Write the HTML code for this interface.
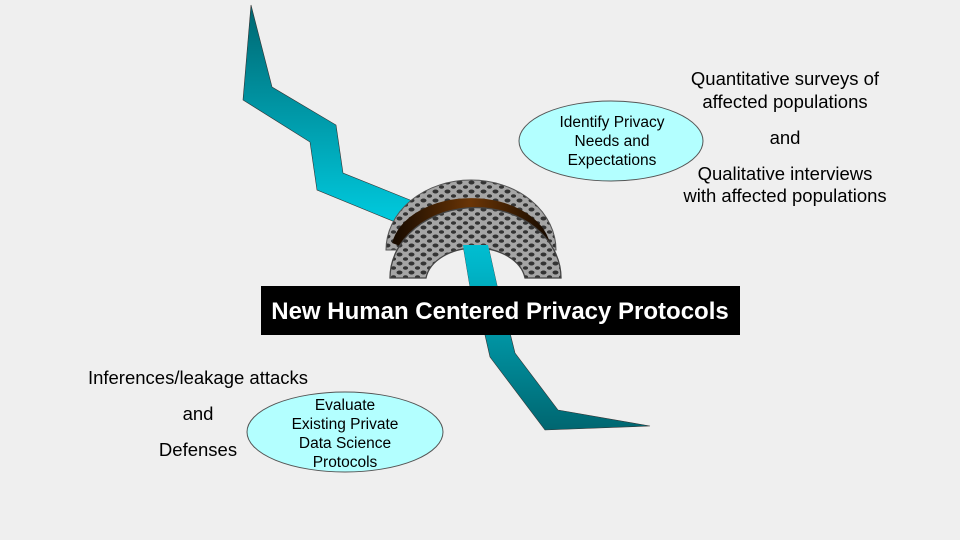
<!DOCTYPE html>
<html><head><meta charset="utf-8"><style>
html,body{margin:0;padding:0;background:#efefef;}
svg{display:block;font-family:"Liberation Sans",Arial,sans-serif;}
</style></head><body>
<svg width="960" height="540" viewBox="0 0 960 540">
<defs>
<linearGradient id="bolt" gradientUnits="userSpaceOnUse" x1="0" y1="5" x2="0" y2="430">
<stop offset="0" stop-color="#006670"/><stop offset="0.5" stop-color="#00c8dc"/><stop offset="0.62" stop-color="#00b5c8"/><stop offset="1" stop-color="#006670"/>
</linearGradient>
<linearGradient id="brown" x1="0" y1="0" x2="1" y2="0">
<stop offset="0" stop-color="#1a0c00"/><stop offset="0.5" stop-color="#6a3506"/><stop offset="1" stop-color="#1a0c00"/>
</linearGradient>
<pattern id="stone" width="12" height="9" patternUnits="userSpaceOnUse">
<rect width="12" height="9" fill="#a5a5a5"/>
<ellipse cx="3.5" cy="2.5" rx="3" ry="2" fill="#333"/>
<ellipse cx="9.5" cy="7" rx="2.6" ry="1.8" fill="#333"/>
</pattern>
</defs>
<rect width="960" height="540" fill="#efefef"/>
<polygon fill="url(#bolt)" stroke="#333" stroke-width="0.6"
points="251,5 272,87 336,125 343,173 410,200 488,245 498,290 510,333 515,353 558,410 650,426 545,430 490,357 485,335 470,287 463,245 395,222 317,190 310,142 243,100"/>
<g>
<path d="M386,250 A85,70 0 0 1 556,250 L520,250 A50,35 0 0 0 422,250 Z" fill="url(#stone)" stroke="#555" stroke-width="1"/>
<path d="M396,244 A76,50 0 0 1 546,244 A78,42 0 0 0 396,244 Z" fill="url(#brown)" stroke="url(#brown)" stroke-width="8"/>
<path d="M390,278 A85,70 0 0 1 561,278 L525,278 A50,35 0 0 0 426,278 Z" fill="url(#stone)" stroke="#444" stroke-width="1.3"/>
</g>
<polygon fill="url(#bolt)" points="463,245 488,245 498,290 470,287"/>
<rect x="261" y="286" width="479" height="49" fill="#000"/>
<text x="500" y="319" text-anchor="middle" fill="#fff" font-size="24" font-weight="bold">New Human Centered Privacy Protocols</text>
<g>
<ellipse cx="611" cy="141" rx="92" ry="40" fill="#b3ffff" stroke="#555"/>
<text x="612" y="127" text-anchor="middle" font-size="15.5">Identify Privacy</text>
<text x="612" y="146" text-anchor="middle" font-size="15.5">Needs and</text>
<text x="612" y="165" text-anchor="middle" font-size="15.5">Expectations</text>
</g>
<g>
<ellipse cx="345" cy="432" rx="98" ry="40" fill="#b3ffff" stroke="#555"/>
<text x="345" y="410" text-anchor="middle" font-size="15.5">Evaluate</text>
<text x="345" y="429" text-anchor="middle" font-size="15.5">Existing Private</text>
<text x="345" y="448" text-anchor="middle" font-size="15.5">Data Science</text>
<text x="345" y="467" text-anchor="middle" font-size="15.5">Protocols</text>
</g>
<g font-size="18.5" text-anchor="middle">
<text x="785" y="85">Quantitative surveys of</text>
<text x="785" y="108">affected populations</text>
<text x="785" y="144">and</text>
<text x="785" y="180">Qualitative interviews</text>
<text x="785" y="202">with affected populations</text>
</g>
<g font-size="18.5" text-anchor="middle">
<text x="198" y="384">Inferences/leakage attacks</text>
<text x="198" y="420">and</text>
<text x="198" y="456">Defenses</text>
</g>
</svg>
</body></html>
